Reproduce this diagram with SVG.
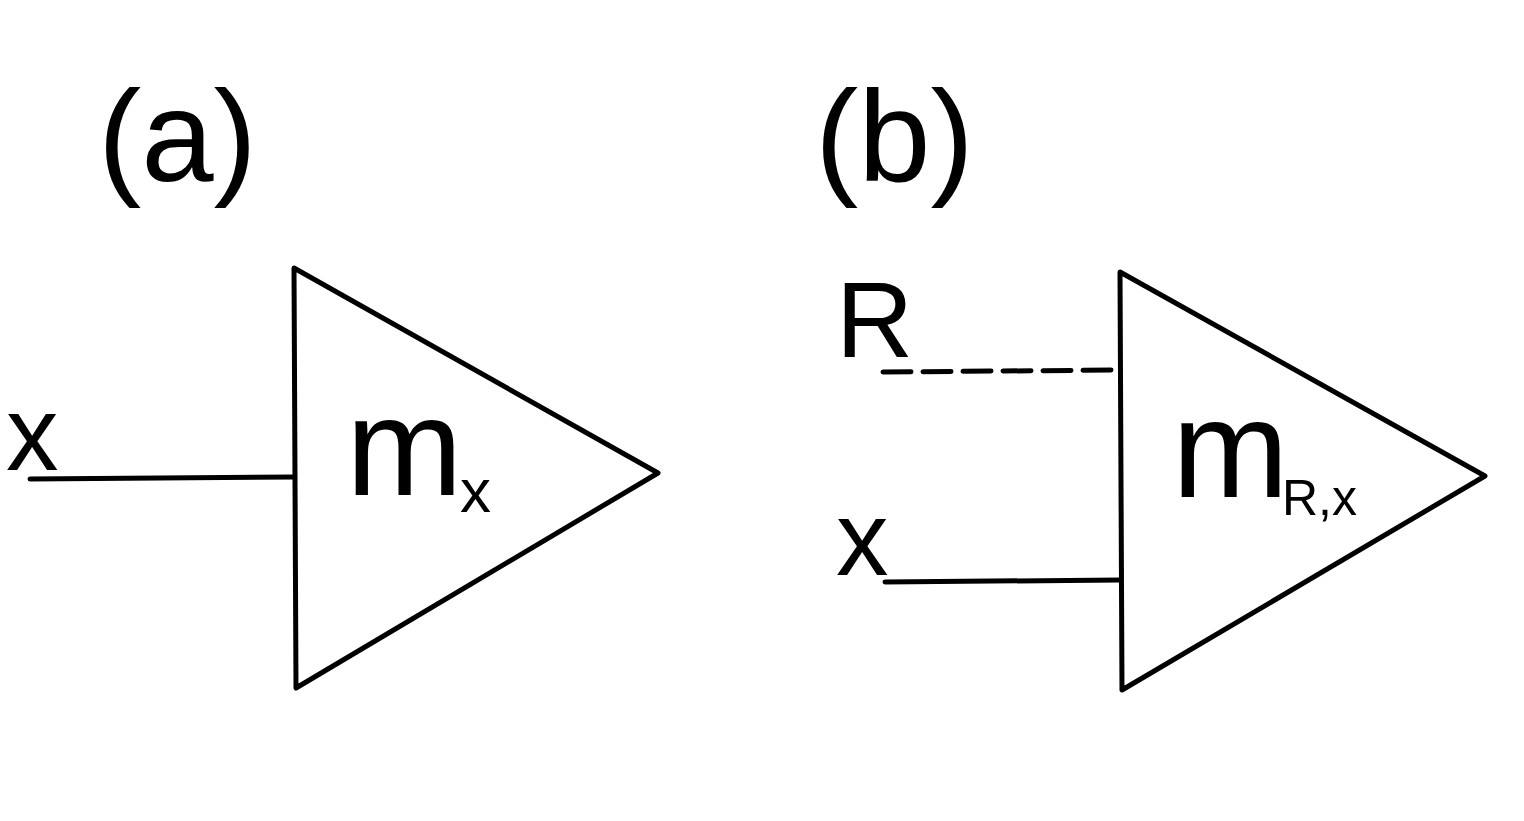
<svg xmlns="http://www.w3.org/2000/svg" width="1524" height="821" viewBox="0 0 1524 821">
<style>
text{font-family:"Liberation Sans",Arial,sans-serif;fill:#000}
.s{fill:none;stroke:#000;stroke-width:5;stroke-linecap:round;stroke-linejoin:round}
</style>
<rect width="1524" height="821" fill="#fff"/>
<text x="98" y="181" font-size="130">(a)</text>
<text x="815" y="181" font-size="130">(b)</text>
<g id="connectors">
<path class="s" d="M30 479 L294 477"/>
<path class="s" d="M883 372 L1120 370" stroke-dasharray="28 12"/>
<path class="s" d="M885 582 L1120 580"/>
</g>
<g id="amp-a">
<path class="s" d="M294 268 L658 473 L296 688 Z"/>
<text x="346" y="495" font-size="140">m</text>
<text x="460" y="512" font-size="62">x</text>
</g>
<g id="amp-b">
<path class="s" d="M1120 272 L1485 476 L1122 690 Z"/>
<text x="1172" y="497" font-size="140">m</text>
<text x="1282" y="515" font-size="50">R,x</text>
</g>
<text x="6" y="470" font-size="105">x</text>
<text x="836" y="357" font-size="107">R</text>
<text x="836" y="575" font-size="105">x</text>
</svg>
